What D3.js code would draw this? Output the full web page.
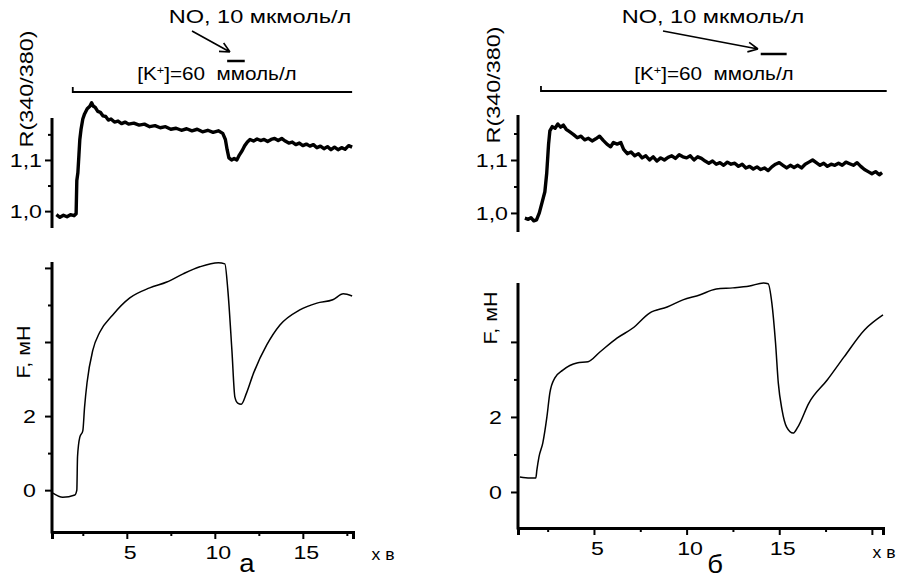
<!DOCTYPE html>
<html lang="uk">
<head>
<meta charset="UTF-8">
<title>R(340/380) and F traces</title>
<script src="https://d3js.org/d3.v7.min.js"></script>
<style>
  body { margin: 0; background: #fff; }
  svg { font-family: Arial, "Liberation Sans", sans-serif; }
  .axis path, .axis line { stroke: #000; }
  .axis path { stroke-width: 3; }
  .axis line { stroke-width: 2; }
  .axis text { font-size: 19px; fill: #000; }
  .trace { fill: none; stroke: #000; stroke-linejoin: round; }
</style>
</head>
<body>
<svg width="901" height="579"></svg>
<script>
// ---- data: panel "а" ----
const timeRa = [1.0,1.2,1.4,1.6,1.8,2.0,2.12,2.16,2.22,2.28,2.33,2.4,2.5,2.6,2.75,2.9,3.0,3.1,3.2,3.35,3.5,3.65,3.8,3.95,4.1,4.3,4.5,4.7,4.9,5.1,5.4,5.7,6.0,6.3,6.6,6.9,7.2,7.5,7.8,8.1,8.4,8.7,9.0,9.3,9.6,9.9,10.2,10.45,10.6,10.7,10.8,10.95,11.1,11.25,11.4,11.55,11.7,11.85,12.0,12.2,12.4,12.6,12.8,13.0,13.2,13.4,13.6,13.8,14.0,14.2,14.4,14.6,14.8,15.0,15.2,15.4,15.6,15.8,16.0,16.2,16.4,16.6,16.8,17.0,17.2,17.4,17.6,17.8];
const ratioA = [0.993,0.988,0.992,0.989,0.993,0.991,0.995,1.06,1.075,1.11,1.14,1.16,1.18,1.19,1.2,1.205,1.212,1.205,1.203,1.195,1.193,1.186,1.185,1.178,1.18,1.174,1.176,1.171,1.174,1.17,1.172,1.168,1.17,1.165,1.167,1.163,1.165,1.16,1.162,1.158,1.161,1.157,1.16,1.155,1.158,1.154,1.157,1.152,1.14,1.12,1.104,1.1,1.103,1.1,1.11,1.118,1.128,1.135,1.14,1.137,1.141,1.138,1.14,1.136,1.14,1.142,1.138,1.142,1.137,1.133,1.135,1.13,1.133,1.128,1.131,1.127,1.13,1.124,1.127,1.122,1.126,1.12,1.125,1.12,1.124,1.121,1.128,1.125];
const timeFa = [0.8,1.36,2.05,2.16,2.2,2.33,2.5,2.6,2.74,3.07,3.47,4.2,5.17,6.3,7.27,8.2,9.15,10.2,10.57,10.74,10.97,11.14,11.3,11.5,11.8,12.2,12.95,13.7,14.8,15.8,16.7,17.3,17.8];
const forceA = [-0.08,-0.19,-0.13,0,0.9,1.43,1.6,2.24,2.9,3.78,4.27,4.73,5.19,5.46,5.62,5.84,6.03,6.14,6.11,5.4,3.78,2.51,2.35,2.32,2.62,3.16,3.92,4.46,4.86,5.05,5.14,5.3,5.24];
const kBarA = [1.93, 17.8];
const noBarA = [10.7, 11.7];

// ---- data: panel "б" ----
const timeRb = [1.27,1.45,1.6,1.75,1.9,2.05,2.2,2.35,2.45,2.55,2.62,2.75,2.9,3.05,3.2,3.35,3.5,3.7,3.9,4.1,4.3,4.5,4.7,4.9,5.1,5.3,5.5,5.7,5.9,6.05,6.25,6.45,6.6,6.8,7.0,7.2,7.4,7.6,7.8,8.0,8.2,8.4,8.6,8.8,9.0,9.2,9.4,9.6,9.8,10.0,10.2,10.4,10.6,10.8,11.0,11.2,11.4,11.6,11.8,12.0,12.2,12.4,12.6,12.8,13.0,13.2,13.4,13.6,13.8,14.0,14.2,14.4,14.6,14.8,15.0,15.2,15.4,15.6,15.8,16.0,16.2,16.4,16.6,16.8,17.0,17.2,17.4,17.6,17.8,18.0,18.2,18.4,18.6,18.8,19.0,19.2,19.4,19.6,19.8,20.0,20.2,20.4,20.55];
const ratioB = [0.99,0.988,0.991,0.985,0.987,1.0,1.02,1.04,1.075,1.13,1.155,1.163,1.16,1.168,1.162,1.166,1.158,1.153,1.148,1.142,1.145,1.138,1.141,1.136,1.14,1.145,1.137,1.13,1.125,1.133,1.13,1.133,1.12,1.112,1.115,1.108,1.112,1.104,1.108,1.1,1.106,1.098,1.104,1.1,1.105,1.108,1.103,1.11,1.106,1.104,1.108,1.1,1.106,1.103,1.098,1.094,1.098,1.092,1.095,1.09,1.096,1.092,1.094,1.088,1.092,1.085,1.088,1.083,1.087,1.082,1.085,1.08,1.087,1.092,1.095,1.09,1.085,1.09,1.086,1.09,1.085,1.092,1.096,1.1,1.095,1.09,1.094,1.088,1.092,1.09,1.094,1.09,1.096,1.093,1.09,1.095,1.088,1.082,1.078,1.074,1.078,1.072,1.076];
const timeFb = [1.0,1.54,1.86,1.92,2.03,2.24,2.46,2.62,2.89,3.32,4.08,4.68,5.32,6.24,7.1,8.0,8.95,9.8,10.7,11.6,12.5,13.4,14.15,14.4,14.6,14.8,14.95,15.15,15.4,15.75,16.0,16.6,17.6,18.5,19.6,20.6];
const forceB = [0.4,0.37,0.37,0.59,0.93,1.31,2.0,2.64,3.04,3.25,3.44,3.47,3.73,4.1,4.37,4.77,4.93,5.12,5.25,5.41,5.44,5.49,5.57,5.55,5.04,3.97,2.9,2.19,1.73,1.57,1.73,2.37,2.99,3.6,4.32,4.72];
const kBarB = [2.14, 20.8];
const noBarB = [14.0, 15.4];

// ---- tick values and labels ----
const rTicks = [1.0, 1.05, 1.1, 1.15];
const rLabels = {1.0: "1,0", 1.1: "1,1"};
const xTicksA = [2.5, 5, 7.5, 10, 12.5, 15, 17.5];
const xTicksB = [2.5, 5, 7.5, 10, 12.5, 15, 17.5, 20];
const xLabels = {5: "5", 10: "10", 15: "15"};
const fTicksA = [0, 1, 2, 3, 4, 5, 6];
const fTicksB = [0, 1, 2, 3, 4];
const fLabels = {0: "0", 2: "2"};

const svg = d3.select("svg");
const sx = 1.22; // the source lettering is wider than Arial

function txt(g, x, y, s, size, stretch, rot) {
  const t = g.append("text")
    .attr("transform", `translate(${x},${y})` + (rot ? " rotate(-90)" : "") + ` scale(${stretch},1)`)
    .attr("text-anchor", "middle")
    .style("font-size", size + "px");
  return t.text(s);
}

function arrow(x1, y1, x2, y2) {
  const ang = Math.atan2(y2 - y1, x2 - x1);
  const p = d3.path();
  p.moveTo(x1, y1); p.lineTo(x2, y2);
  [0.45, -0.45].forEach(a => {
    p.moveTo(x2, y2);
    p.lineTo(x2 - 11 * Math.cos(ang + a), y2 - 11 * Math.sin(ang + a));
  });
  svg.append("path").attr("d", p.toString()).attr("fill", "none")
    .attr("stroke", "#000").attr("stroke-width", 1.6);
}

function panel(c) {
  const g = svg.append("g");
  const x = d3.scaleLinear().domain(c.xDom).range(c.xRange);
  const yR = d3.scaleLinear().domain(c.rDom).range(c.rRange);
  const yF = d3.scaleLinear().domain(c.fDom).range(c.fRange);

  // R axis
  const rAx = g.append("g").attr("class", "axis")
    .attr("transform", `translate(${c.xRange[0]},0)`)
    .call(d3.axisLeft(yR).tickValues(rTicks).tickSizeOuter(0)
      .tickSize(7).tickFormat(d => rLabels[d] || ""));
  rAx.select(".domain").attr("d", `M0,${c.rRange[0]}V${c.rRange[1]}`);
  rAx.selectAll(".tick").filter(d => !rLabels[d]).select("line").attr("x2", -4);
  rAx.selectAll("text").attr("x", -10 / sx).attr("dy", "0.35em")
    .attr("transform", `scale(${sx},1)`);

  // F axis
  const fAx = g.append("g").attr("class", "axis")
    .attr("transform", `translate(${c.xRange[0]},0)`)
    .call(d3.axisLeft(yF).tickValues(c.fTicks).tickSizeOuter(0)
      .tickSize(7).tickFormat(d => fLabels[d] || ""));
  fAx.select(".domain").attr("d", `M0,${c.fRange[0] + 1.5}V${c.fRange[1]}`);
  fAx.selectAll(".tick").filter(d => d % 2).select("line").attr("x2", -4);
  fAx.selectAll(".tick text").attr("x", -16 / sx).attr("transform", `scale(${sx},1)`);

  // time axis
  const xAx = g.append("g").attr("class", "axis")
    .attr("transform", `translate(0,${c.fRange[0]})`)
    .call(d3.axisBottom(x).tickValues(c.xTicks).tickSizeOuter(0)
      .tickSize(7).tickFormat(d => xLabels[d] || ""));
  xAx.selectAll(".tick").filter(d => d % 5).select("line").attr("y2", 4);
  xAx.selectAll(".tick text").attr("y", 14).attr("x", 3 / sx).attr("transform", `scale(${sx},1)`);

  // traces
  g.append("path").attr("class", "trace").attr("stroke-width", 3.4)
    .attr("d", d3.line().x((d, i) => x(c.tR[i])).y(d => yR(d))(c.r));
  g.append("path").attr("class", "trace").attr("stroke-width", 1.5)
    .attr("d", d3.line().curve(d3.curveMonotoneX)
      .x((d, i) => x(c.tF[i])).y(d => yF(d))(c.f));

  // K+ application bar
  g.append("path").attr("fill", "none").attr("stroke", "#000").attr("stroke-width", 1.8)
    .attr("d", `M${x(c.kBar[0])},${c.kY - 5}V${c.kY}H${x(c.kBar[1])}`);
  // NO application bar
  g.append("line").attr("stroke", "#000").attr("stroke-width", 2.5)
    .attr("x1", x(c.noBar[0])).attr("x2", x(c.noBar[1]))
    .attr("y1", c.noY).attr("y2", c.noY);

  // texts
  const k = txt(g, c.kText[0], c.kText[1], "", 18, 1.15);
  k.append("tspan").text("[K");
  k.append("tspan").attr("dy", -6).style("font-size", "11px").text("+");
  k.append("tspan").attr("dy", 6).text("]=60 \u00a0ммоль/л");
  txt(g, c.noText[0], c.noText[1], "NO, 10 мкмоль/л", 19, 1.24);
  arrow(c.arrow[0], c.arrow[1], c.arrow[2], c.arrow[3]);

  txt(g, c.rLab[0], c.rLab[1], "R(340/380)", 18, 1.3, true);
  txt(g, c.fLab[0], c.fLab[1], "F, мН", 18, 1.2, true);
  txt(g, c.unit[0], c.unit[1], "х в", 16, 1.1);
  txt(g, c.letter[0], c.letter[1], c.name, 25, 1.1);
}

panel({
  name: "а",
  xDom: [0.75, 17.85], xRange: [52, 353],
  rDom: [0.967, 1.182], rRange: [228, 118],
  fDom: [-1.13, 6.16], fRange: [532, 262],
  xTicks: xTicksA, fTicks: fTicksA,
  tR: timeRa, r: ratioA, tF: timeFa, f: forceA,
  kBar: kBarA, kY: 92, noBar: noBarA, noY: 61,
  kText: [217, 80], noText: [260, 23], arrow: [192, 31, 230, 52],
  rLab: [33, 89], fLab: [30, 352], unit: [383, 560], letter: [247, 572]
});

panel({
  name: "б",
  xDom: [0.9, 20.6], xRange: [518, 883],
  rDom: [0.964, 1.185], rRange: [232, 115],
  fDom: [-0.96, 5.57], fRange: [528, 283],
  xTicks: xTicksB, fTicks: fTicksB,
  tR: timeRb, r: ratioB, tF: timeFb, f: forceB,
  kBar: kBarB, kY: 91, noBar: noBarB, noY: 54,
  kText: [714, 80], noText: [713, 23], arrow: [663, 31, 758, 49],
  rLab: [500, 85], fLab: [497, 318], unit: [884, 558], letter: [715, 573]
});
</script>
</body>
</html>
